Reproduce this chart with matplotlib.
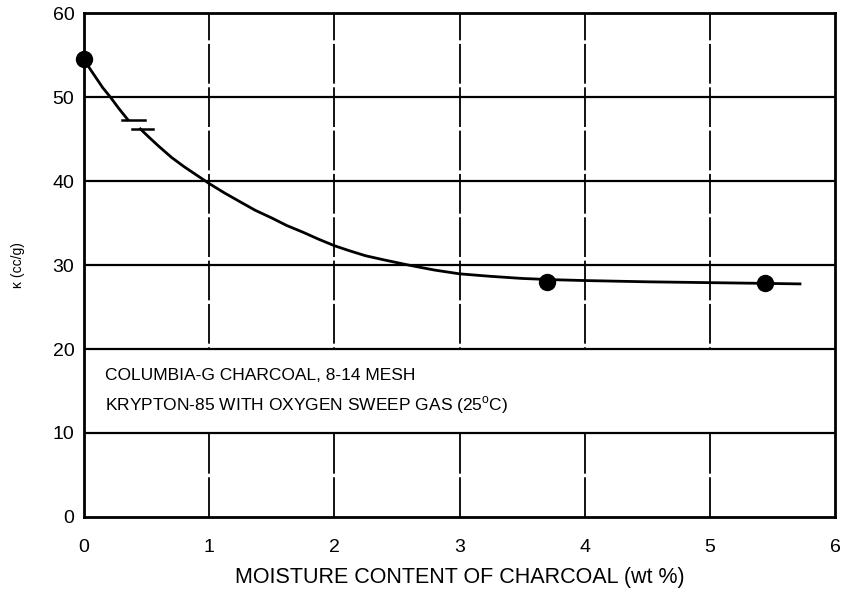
import matplotlib
matplotlib.use('Agg')
import matplotlib.pyplot as plt
from matplotlib.patches import Rectangle

plt.rcParams['font.family'] = ['Liberation Sans', 'DejaVu Sans']

# measured points
meas_x = [0.0, 3.70, 5.44]
meas_y = [54.5, 28.0, 27.9]

# fitted curve, drawn in two pieces with a break near x = 0.4
curve1_x = [0.0, 0.05, 0.1, 0.15, 0.21, 0.28, 0.35]
curve1_y = [54.5, 53.3, 52.2, 51.1, 50.0, 48.6, 47.3]
curve2_x = [0.45, 0.52, 0.6, 0.7, 0.8, 0.9, 1.0, 1.12, 1.25, 1.37, 1.5, 1.62, 1.75,
            1.87, 2.0, 2.12, 2.25, 2.4, 2.59, 2.8, 3.0, 3.25, 3.5, 3.75, 4.0, 4.5,
            5.0, 5.5, 5.72]
curve2_y = [46.2, 45.2, 44.1, 42.8, 41.7, 40.7, 39.7, 38.6, 37.5, 36.5, 35.6, 34.7, 33.9,
            33.1, 32.3, 31.7, 31.1, 30.6, 30.0, 29.4, 28.95, 28.65, 28.4, 28.25, 28.15, 28.0,
            27.9, 27.8, 27.75]

# break marks (y, x start, x end)
brk_y = [47.3, 46.2]
brk_x0 = [0.30, 0.38]
brk_x1 = [0.49, 0.55]

x_ticks = [0, 1, 2, 3, 4, 5, 6]
y_ticks = [0, 10, 20, 30, 40, 50, 60]
note = ['COLUMBIA-G CHARCOAL, 8-14 MESH',
        'KRYPTON-85 WITH OXYGEN SWEEP GAS (25$^{\\mathregular{o}}$C)']

fig = plt.figure(figsize=(8.42, 5.93), dpi=100)
ax = fig.add_axes([0.0998, 0.1282, 0.8919, 0.8498])
ax.set_xlim(0, 6)
ax.set_ylim(0, 60)

# grid
for x in x_ticks[1:-1]:
    ax.plot([x, x], [0, 60], color='black', lw=1.3, ls=(0, (22, 2)), zorder=1)
for y in y_ticks[1:-1]:
    ax.axhline(y, color='black', lw=1.6, zorder=3)

# blank band for the note
ax.add_patch(Rectangle((0, 10), 6, 10, facecolor='white', edgecolor='none', zorder=2))
ax.text(0.17, 16.9, note[0], fontsize=12.5, va='center', ha='left', zorder=4)
ax.text(0.17, 13.3, note[1], fontsize=12.5, va='center', ha='left', zorder=4)

ax.plot(curve1_x, curve1_y, color='black', lw=2, zorder=5, clip_on=False)
ax.plot(curve2_x, curve2_y, color='black', lw=2, zorder=5)
for y, a, b in zip(brk_y, brk_x0, brk_x1):
    ax.plot([a, b], [y, y], color='black', lw=1.8, zorder=5)
ax.plot(meas_x, meas_y, 'o', color='black', ms=11.5, zorder=6, clip_on=False)

for s in ax.spines.values():
    s.set_linewidth(2)
ax.set_xticks(x_ticks)
ax.set_yticks(y_ticks)
ax.tick_params(length=0, labelsize=14)
ax.tick_params(axis='x', pad=16)
ax.tick_params(axis='y', pad=7)
ax.set_xlabel('MOISTURE CONTENT OF CHARCOAL (wt %)', fontsize=15.5, labelpad=8)
ax.set_ylabel('\u03ba (cc/g)', fontsize=10, labelpad=20)

fig.savefig('out.png', dpi=100)
